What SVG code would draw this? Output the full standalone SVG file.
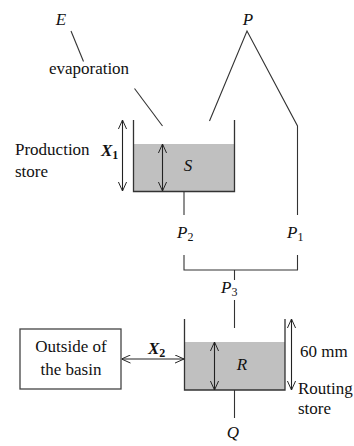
<svg xmlns="http://www.w3.org/2000/svg" width="354" height="446" viewBox="0 0 354 446">
<style>
  text { font-family: "Liberation Serif", "Times New Roman", serif; font-size: 17px; fill: #111; }
  .it { font-style: italic; }
  .bi { font-style: italic; font-weight: bold; }
  .sub { font-size: 12px; font-style: normal; }
  .ln { stroke: #333; stroke-width: 1.1; fill: none; }
  .wall { stroke: #333; stroke-width: 1.3; fill: none; }
  .water { fill: #c0c0c0; stroke: none; }
  .arr { stroke: #222; stroke-width: 1.1; fill: none; marker-start: url(#head); marker-end: url(#head); }
</style>
<defs>
  <marker id="head" viewBox="0 0 10 10" refX="10" refY="5" markerWidth="9" markerHeight="9" markerUnits="userSpaceOnUse" orient="auto-start-reverse">
    <path d="M0,0.5 L10,5 L0,9.5" fill="none" stroke="#222" stroke-width="1.1"/>
  </marker>
</defs>

<g id="connectors">
  <line class="ln" x1="71" y1="31" x2="83.5" y2="61.5"/>
  <line class="ln" x1="134.5" y1="88.5" x2="162.5" y2="126"/>
  <polyline class="ln" points="209.5,121 247,31 297.5,126 297.5,215"/>
  <line class="ln" x1="184" y1="191.5" x2="184" y2="215"/>
  <polyline class="ln" points="184,255 184,270 297.5,270 297.5,255"/>
  <line class="ln" x1="234.5" y1="270" x2="234.5" y2="280"/>
  <line class="ln" x1="234.5" y1="300" x2="234.5" y2="328"/>
  <line class="ln" x1="234.5" y1="390" x2="234.5" y2="418"/>
  <line class="arr" x1="122.5" y1="120" x2="122.5" y2="191"/>
  <line class="arr" x1="121.5" y1="359" x2="184" y2="359"/>
  <line class="arr" x1="291.5" y1="319" x2="291.5" y2="390"/>
</g>

<g id="production-store">
  <rect class="water" x="133.5" y="144" width="101" height="47.5"/>
  <polyline class="wall" points="133.5,120 133.5,191.5 234.5,191.5 234.5,120"/>
  <line class="arr" x1="162.5" y1="144" x2="162.5" y2="191"/>
  <text class="it" x="188" y="171" text-anchor="middle">S</text>
  <text x="15" y="155">Production</text>
  <text x="15" y="177">store</text>
  <text class="bi" x="101" y="156">X<tspan class="sub" font-weight="bold" dy="3">1</tspan></text>
</g>

<g id="routing-store">
  <rect class="water" x="184.5" y="342" width="100.5" height="48"/>
  <polyline class="wall" points="184.5,319 184.5,390 285,390 285,319"/>
  <line class="arr" x1="214.5" y1="342" x2="214.5" y2="390"/>
  <text class="it" x="242" y="370" text-anchor="middle">R</text>
  <text x="300" y="357">60 mm</text>
  <text x="298" y="394">Routing</text>
  <text x="298" y="414">store</text>
</g>

<g id="outside">
  <rect x="20" y="329" width="101" height="60" fill="#fff" stroke="#444" stroke-width="1.3"/>
  <text x="71" y="352" text-anchor="middle">Outside of</text>
  <text x="71" y="375" text-anchor="middle">the basin</text>
</g>

<g id="labels">
  <text class="it" x="61" y="25" text-anchor="middle">E</text>
  <text x="89" y="74" text-anchor="middle">evaporation</text>
  <text class="it" x="248" y="25" text-anchor="middle">P</text>
  <text class="it" x="177" y="238">P<tspan class="sub" dy="3">2</tspan></text>
  <text class="it" x="287" y="238">P<tspan class="sub" dy="3">1</tspan></text>
  <text class="it" x="221" y="293">P<tspan class="sub" dy="3">3</tspan></text>
  <text class="bi" x="148" y="354">X<tspan class="sub" font-weight="bold" dy="3">2</tspan></text>
  <text class="it" x="233" y="438" text-anchor="middle">Q</text>
</g>
</svg>
